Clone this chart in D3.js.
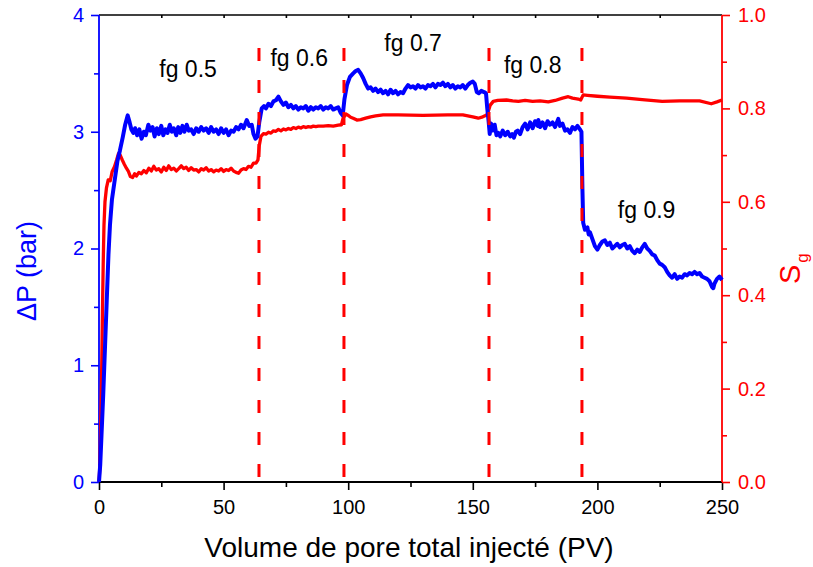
<!DOCTYPE html>
<html><head><meta charset="utf-8">
<script src="https://cdn.jsdelivr.net/npm/d3@7"></script>
<style>
body{margin:0;background:#fff;}
svg{display:block;font-family:"Liberation Sans",Arial,sans-serif;}
</style></head>
<body><svg id="c" width="813" height="567"></svg>
<script>
// ---- data ----
const pvP = [0,0.5,1,1.7,2.4,3.1,3.8,4.4,5.2,6.4,7.4,8.4,9.5,10.5,11.5,12.3,13,13.8,14.5,15.3,16.2,17.1,18,18.8,19.8,20.6,21.5,22.3,23.2,24,25,25.8,26.7,27.5,28.4,29.2,30,31,31.8,32.6,33.5,34.3,35.2,36,37,38,39,40,41,42,43,44,45,46,47,48,49,50,51,52,53,54,55,56,57,58,59.3,60.3,61.3,62,62.8,63.6,64.3,65.3,66.2,67,68,69,70,71,72,73,74,75,76,77,78,79,80,81,82,83,84,85,86,87,88,89,90,91,92,93,94,95,96,97,97.8,98.5,99.5,100.7,102,103,104,105,106,107,108,109,110,111,112,113,114,115,116,117,118,119,120,121,122,123,124,125,126,127,128,129,130,131,132,133,134,135,136,137,138,139,140,141,142,143,144,145,146,147,148,149,150,150.8,151.6,152.4,153.4,154.5,155.3,155.8,156.3,156.8,157.3,158,158.8,159.5,160.3,161,162,163,164,165,165.8,166.5,167.3,168,169,170,171,172,173,174,175,176,176.3,177,178,179,180,181,182,183,184.3,185,186,187,188,189,190,191,192,193,193.6,194,194.3,195,196,196.5,197,198,199,200,201,202,203,204,205,206,207,208,209,210,211,212,213,214,215,216,217,218,219,220,221,222,223,224,225,226,227,228,229,230,231,232,233,234,235,236,237,238,239,240,241,242,243,244,245,246,246.5,247,248,249,250];
const deltaP = [0,0.15,0.4,0.75,1.15,1.55,1.95,2.2,2.42,2.6,2.75,2.84,2.95,3.06,3.14,3.08,3.02,2.99,3.03,2.97,3.02,2.94,3.0,2.97,3.06,3.01,3.04,2.96,3.03,2.98,3.05,2.97,3.02,2.99,3.06,3.0,3.03,2.97,3.04,2.99,3.05,3.0,3.06,3.01,3.02,2.98,3.03,3.0,3.04,3.01,3.03,2.99,3.04,3.0,3.02,2.98,3.03,2.99,3.02,2.97,3.01,3.0,3.04,3.02,3.06,3.03,3.10,3.05,3.06,2.98,2.94,2.96,3.08,3.2,3.22,3.2,3.24,3.22,3.26,3.27,3.30,3.26,3.23,3.25,3.21,3.23,3.2,3.22,3.19,3.21,3.2,3.22,3.18,3.21,3.19,3.21,3.2,3.22,3.19,3.21,3.2,3.22,3.19,3.2,3.21,3.16,3.14,3.28,3.4,3.47,3.5,3.52,3.53,3.5,3.46,3.41,3.37,3.38,3.35,3.37,3.34,3.36,3.33,3.35,3.32,3.36,3.33,3.35,3.32,3.34,3.33,3.37,3.40,3.38,3.39,3.37,3.40,3.38,3.39,3.37,3.40,3.39,3.41,3.38,3.41,3.40,3.42,3.39,3.41,3.38,3.40,3.37,3.39,3.38,3.40,3.37,3.40,3.42,3.43,3.41,3.34,3.33,3.35,3.34,3.33,3.2,3.1,2.98,3.07,3.01,3.06,2.97,2.99,2.96,3.01,2.97,3.0,2.96,2.98,2.95,3.0,3.01,2.98,3.04,3.07,3.02,3.08,3.03,3.09,3.05,3.10,3.04,3.08,3.03,3.09,3.06,3.08,3.04,3.11,3.05,3.07,3.01,3.02,2.99,3.04,3.02,3.05,3.02,3.0,2.5,2.22,2.16,2.18,2.12,2.14,2.08,2.02,1.99,2.03,2.06,2.07,2.03,2.05,2.0,2.02,2.04,2.01,2.03,2.04,2.0,2.02,1.98,1.96,1.99,1.97,2.01,2.04,2.0,1.98,1.95,1.94,1.9,1.87,1.86,1.84,1.8,1.77,1.75,1.78,1.74,1.76,1.75,1.78,1.77,1.79,1.78,1.80,1.78,1.79,1.76,1.75,1.74,1.72,1.67,1.66,1.70,1.74,1.76,1.73];
const pvS = [0,0.4,0.8,1.1,1.4,1.7,2.0,2.4,3.0,3.7,4.5,5.3,6.2,7.1,7.8,8.5,9.3,10.2,11,11.8,12.6,13.5,14.3,15,16,17,18,19,20,21,22,23,24,25,26,27,28,29,30,31,32,33,34,35,36,37,38,39,40,41,42,43,44,45,46,47,48,49,50,51,52,53,54,55,56,57,58,59,60,61,62,63,63.8,64.3,65,66,67,68,69,70,71,72,73,74,75,76,77,78,79,80,81,82,83,84,85,86,87,88,90,92,94,96,97.3,98,99.2,100,101,102,103.5,105,107,109,111,114,120,130,140,146,150,152.2,154,155.6,156.3,157,158.2,160,163.5,166,168.3,171,174,177,180.3,183,186,188.3,190,192.3,193.3,194.3,196,200,205,211.7,218,226,233,241,245.7,248,250];
const sg = [0,0.04,0.15,0.25,0.37,0.47,0.55,0.60,0.63,0.647,0.645,0.665,0.675,0.69,0.703,0.70,0.69,0.68,0.672,0.665,0.654,0.652,0.66,0.655,0.663,0.66,0.667,0.662,0.672,0.666,0.676,0.668,0.671,0.664,0.674,0.667,0.677,0.669,0.672,0.666,0.671,0.677,0.671,0.674,0.667,0.673,0.668,0.669,0.664,0.671,0.668,0.673,0.666,0.669,0.664,0.668,0.666,0.671,0.665,0.669,0.667,0.672,0.666,0.663,0.661,0.668,0.671,0.669,0.676,0.674,0.683,0.683,0.69,0.72,0.74,0.746,0.745,0.749,0.747,0.752,0.751,0.755,0.752,0.756,0.754,0.757,0.755,0.759,0.757,0.76,0.758,0.761,0.759,0.761,0.76,0.762,0.761,0.762,0.762,0.763,0.762,0.764,0.765,0.78,0.788,0.785,0.781,0.779,0.775,0.776,0.779,0.782,0.784,0.786,0.786,0.785,0.786,0.786,0.782,0.779,0.782,0.786,0.795,0.807,0.815,0.817,0.818,0.816,0.815,0.817,0.815,0.816,0.814,0.817,0.822,0.825,0.822,0.82,0.818,0.829,0.828,0.826,0.824,0.822,0.819,0.815,0.816,0.816,0.81,0.814,0.818];
const switchPV = [64.2, 98.3, 156.5, 193.8];
const fgLabels = ["fg 0.5","fg 0.6","fg 0.7","fg 0.8","fg 0.9"];
const fgPV = [24.2, 68.8, 114.5, 162.5, 208.2];
const fgP = [3.47, 3.56, 3.69, 3.50, 2.26];
const xTicks = [0,50,100,150,200,250];
const leftTicks = [0,1,2,3,4];
const rightTicks = [0,0.2,0.4,0.6,0.8,1.0];

// ---- chart ----
const svg = d3.select("#c");
const L=99, R=722, T=15, B=482;
const x = d3.scaleLinear().domain([0,250]).range([L,R]);
const yL = d3.scaleLinear().domain([0,4]).range([B,T]);
const yR = d3.scaleLinear().domain([0,1]).range([B,T]);
const BLUE="#0000ff", RED="#ff0000";

function styleAxis(g, color, fs){
  g.select(".domain").remove();
  g.selectAll("line").attr("stroke",color).attr("stroke-width",1.6);
  g.selectAll("text").attr("fill",color).attr("font-size",fs).attr("font-family","Liberation Sans, Arial, sans-serif");
}
// minor ticks
const minorX = d3.range(25,250,50);
svg.append("g").attr("transform",`translate(0,${B})`)
  .call(d3.axisBottom(x).tickValues(minorX).tickSize(5).tickFormat(""))
  .call(g=>styleAxis(g,"#000",20));
svg.append("g").attr("transform",`translate(0,${T})`)
  .call(d3.axisBottom(x).tickValues(d3.range(25,250,25)).tickSize(3).tickFormat(""))
  .call(g=>styleAxis(g,"#000",20));
svg.append("g").attr("transform",`translate(${L},0)`)
  .call(d3.axisLeft(yL).tickValues(d3.range(0.5,4,1)).tickSize(5).tickFormat(""))
  .call(g=>styleAxis(g,BLUE,20));
svg.append("g").attr("transform",`translate(${R},0)`)
  .call(d3.axisRight(yR).tickValues([0.1,0.3,0.5,0.7,0.9]).tickSize(5).tickFormat(""))
  .call(g=>styleAxis(g,RED,20));
// major ticks
svg.append("g").attr("transform",`translate(0,${B})`)
  .call(d3.axisBottom(x).tickValues(xTicks).tickSize(8).tickPadding(10).tickFormat(d3.format("d")))
  .call(g=>styleAxis(g,"#000",20));
svg.append("g").attr("transform",`translate(${L},0)`)
  .call(d3.axisLeft(yL).tickValues(leftTicks).tickSize(8).tickPadding(7).tickFormat(d3.format("d")))
  .call(g=>styleAxis(g,BLUE,20));
svg.append("g").attr("transform",`translate(${R},0)`)
  .call(d3.axisRight(yR).tickValues(rightTicks).tickSize(8).tickPadding(8).tickFormat(d3.format(".1f")))
  .call(g=>styleAxis(g,RED,20));

// frame lines
svg.append("line").attr("x1",L).attr("x2",R).attr("y1",T).attr("y2",T).attr("stroke","#000").attr("stroke-width",1.6);
svg.append("line").attr("x1",L).attr("x2",R).attr("y1",B).attr("y2",B).attr("stroke","#000").attr("stroke-width",1.8);
svg.append("line").attr("x1",L).attr("x2",L).attr("y1",T).attr("y2",B).attr("stroke",BLUE).attr("stroke-width",1.8);
svg.append("line").attr("x1",R).attr("x2",R).attr("y1",T).attr("y2",B).attr("stroke",RED).attr("stroke-width",1.8);

// data lines
const lineS = d3.line().x((d,i)=>x(pvS[i])).y(d=>yR(d));
const lineP = d3.line().x((d,i)=>x(pvP[i])).y(d=>yL(d));
svg.append("path").attr("d",lineS(sg)).attr("fill","none").attr("stroke",RED).attr("stroke-width",3.3).attr("stroke-linejoin","round");
svg.append("path").attr("d",lineP(deltaP)).attr("fill","none").attr("stroke",BLUE).attr("stroke-width",4).attr("stroke-linejoin","round");

// dashed separators
svg.selectAll("line.sw").data(switchPV).enter().append("line")
  .attr("x1",d=>x(d)).attr("x2",d=>x(d)).attr("y1",48).attr("y2",B)
  .attr("stroke",RED).attr("stroke-width",3).attr("stroke-dasharray","13,19");

// fg labels
svg.selectAll("text.fg").data(fgLabels).enter().append("text")
  .attr("x",(d,i)=>x(fgPV[i])).attr("y",(d,i)=>yL(fgP[i]))
  .attr("font-size",23).attr("fill","#000").text(d=>d);

// axis titles
svg.append("text").attr("x",409).attr("y",557).attr("text-anchor","middle")
  .attr("font-size",28).attr("fill","#000").text("Volume de pore total injecté (PV)");
svg.append("text").attr("transform","translate(36,271) rotate(-90)").attr("text-anchor","middle")
  .attr("font-size",27).attr("fill",BLUE).text("ΔP (bar)");
const st = svg.append("text").attr("transform","translate(800,284) rotate(-90)")
  .attr("font-size",29).attr("fill",RED);
st.append("tspan").text("S");
st.append("tspan").attr("font-size",17).attr("dy",8).attr("dx",2).text("g");
</script></body></html>
